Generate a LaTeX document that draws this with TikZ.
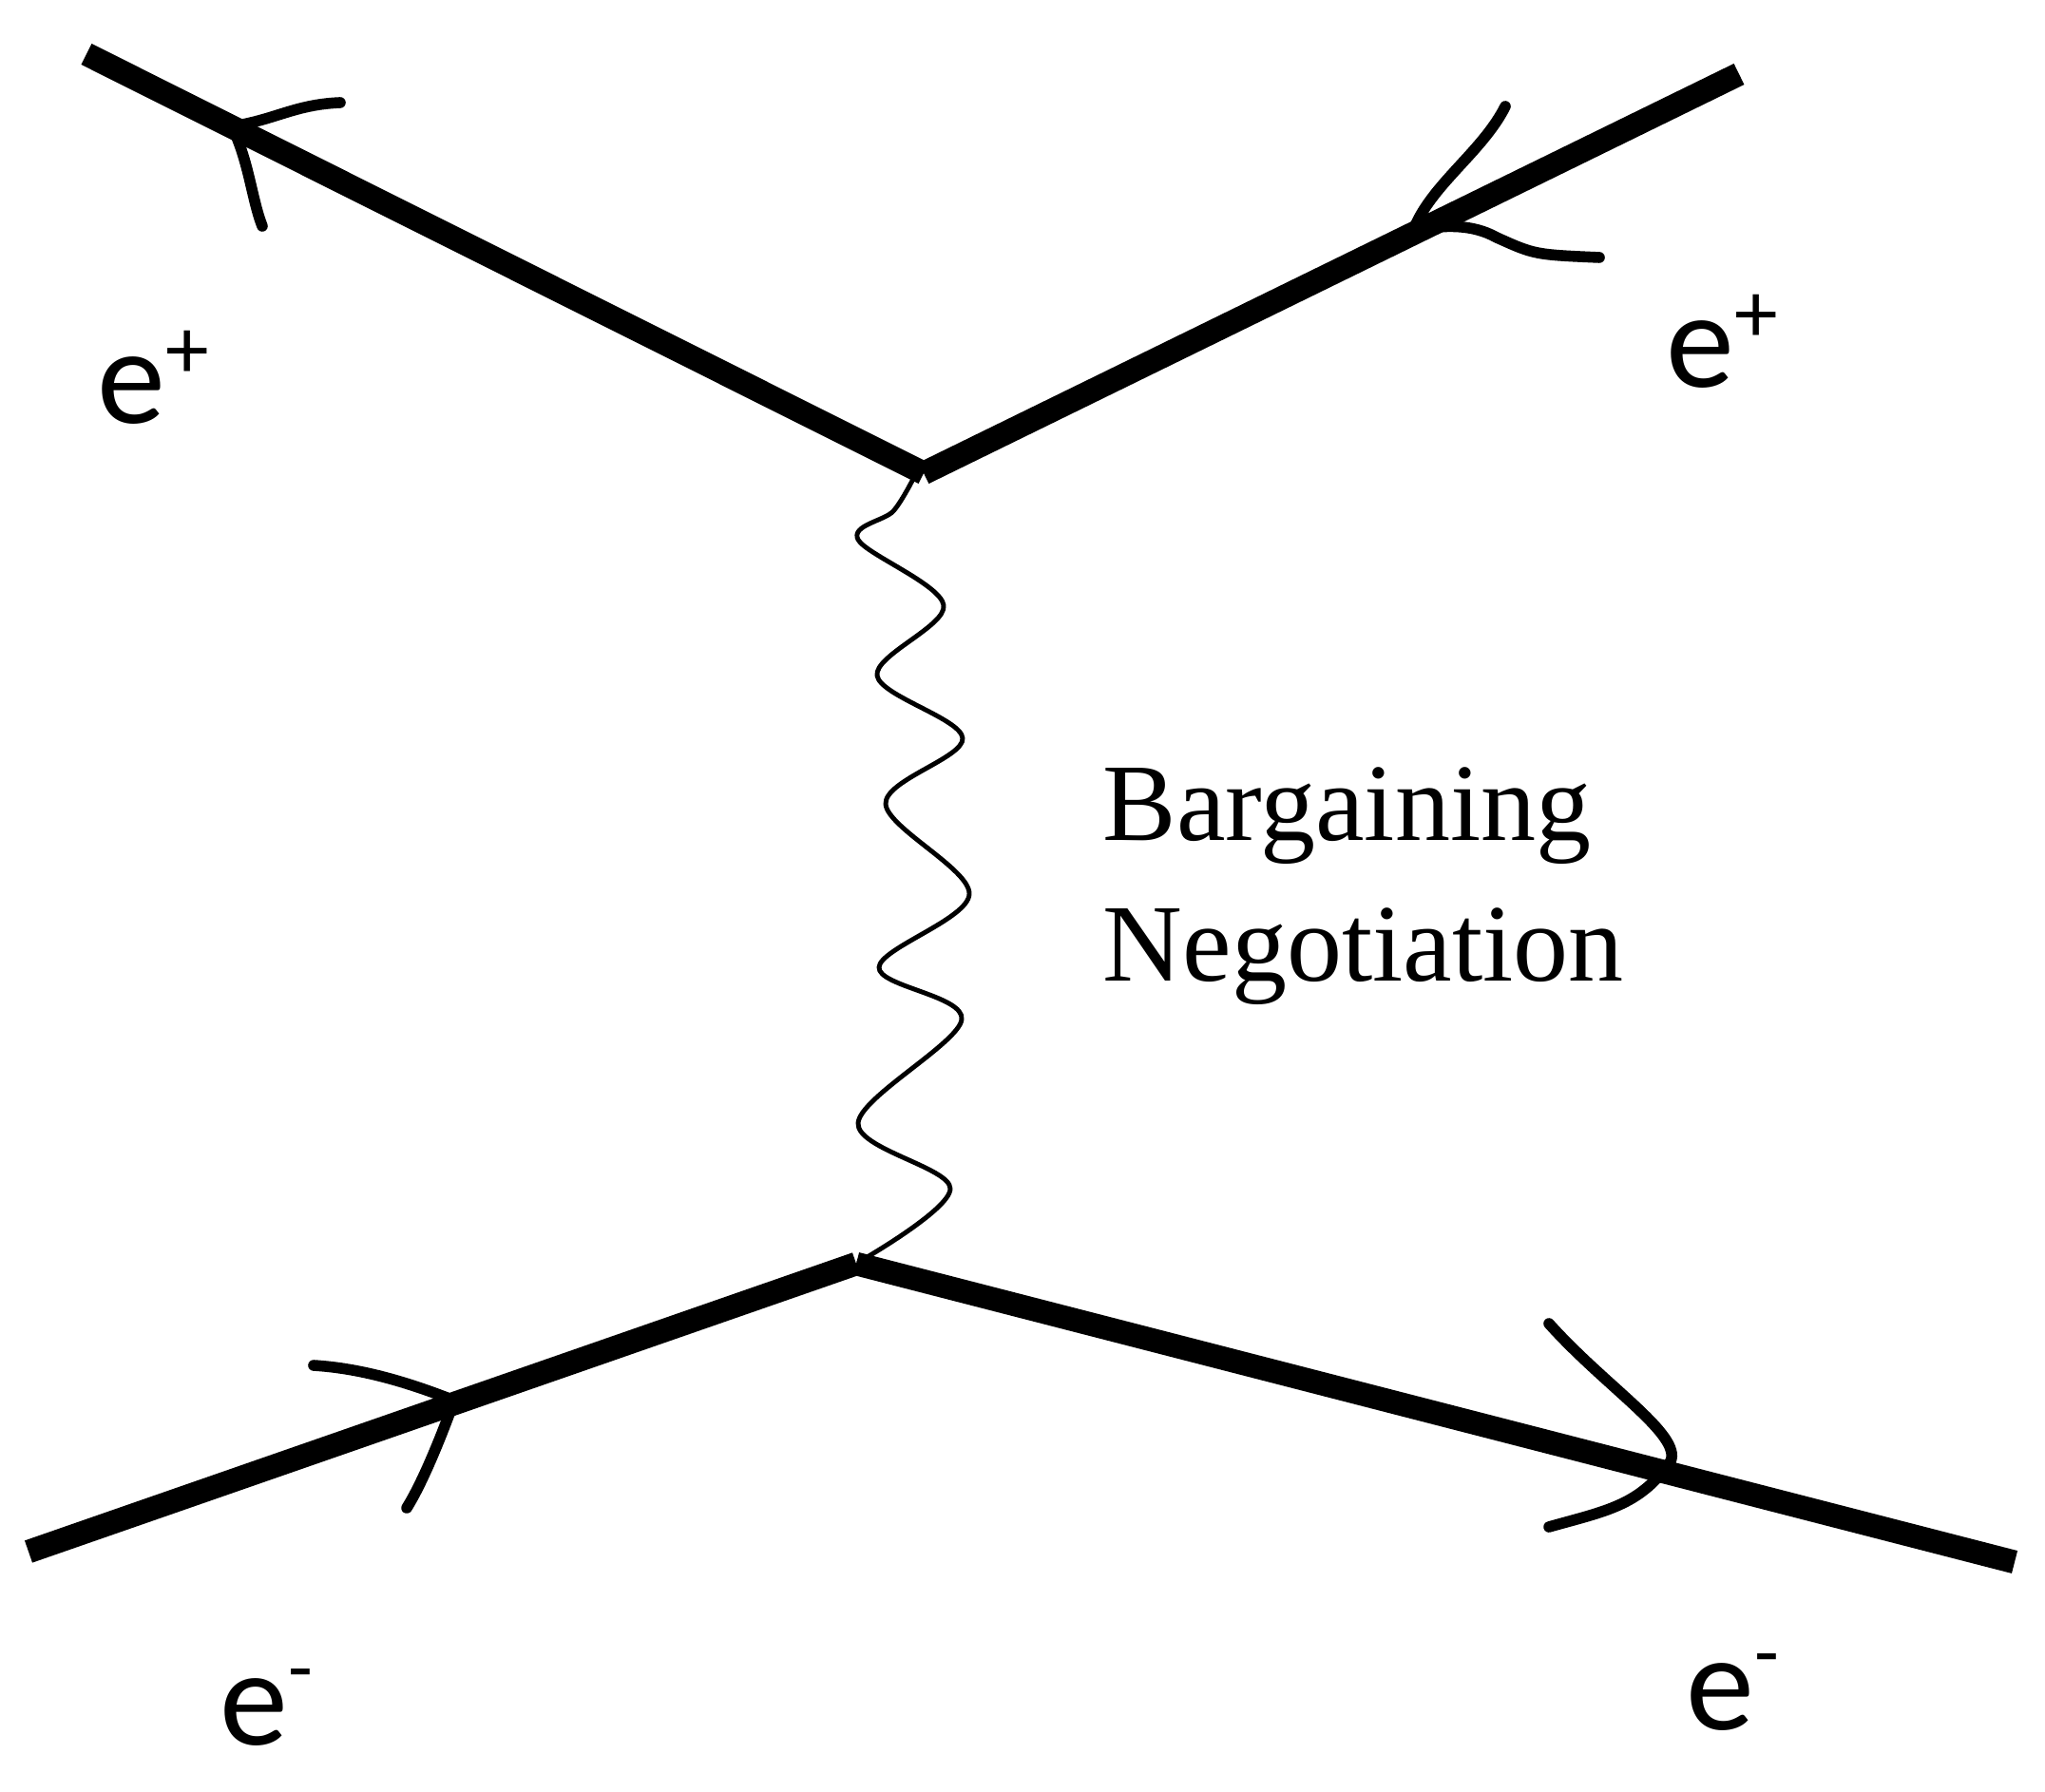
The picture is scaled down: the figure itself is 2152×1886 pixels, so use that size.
\documentclass[tikz,border=0pt]{standalone}
\usepackage{fontspec}
\newfontfamily\lblfont{Carlito}
\newfontfamily\txtfont{Liberation Serif}
\newcommand{\supplus}{\raisebox{13.4pt}{\fontsize{26}{26}\selectfont +}}
\newcommand{\supminus}{\raisebox{15pt}{\fontsize{24}{24}\selectfont -}}
\begin{document}
\begin{tikzpicture}[x=0.01cm,y=-0.01cm,
  fermion/.style={line width=7pt, line cap=butt},
  barb/.style={line width=3.3pt, line cap=round, line join=round},
  photon/.style={line width=1.4pt, line cap=round, line join=round},
  lbl/.style={font=\lblfont\fontsize{41}{49}\selectfont, inner sep=0pt, anchor=base west},
  txt/.style={font=\txtfont\fontsize{33}{41}\selectfont, inner sep=0pt, anchor=base west}]
\useasboundingbox (0,0) rectangle (2152,1886);
% vertices and external ends
\coordinate (tl) at (91,57);
\coordinate (tr) at (1830,78);
\coordinate (vt) at (972,498);
\coordinate (vb) at (901,1330);
\coordinate (bl) at (30,1633);
\coordinate (br) at (2120,1644);
% fermion lines
\draw[fermion] (vt) -- (tl);
\draw[fermion] (tr) -- (vt);
\draw[fermion] (bl) -- (vb);
\draw[fermion] (vb) -- (br);
% photon (wavy)
\draw[photon] plot[smooth, tension=0.55] coordinates {(962,502) (940,538) (903,568) (993,637) (923,711) (1013,777) (932,846) (1020,941) (925,1018) (1012,1073) (903,1182) (1000,1251) (904,1328)};
% hand-drawn arrow barbs
\coordinate (ta) at (244,133);
\coordinate (ta1) at (358,108);
\coordinate (ta2) at (276,238);
\draw[barb] (ta) .. controls (290,126) and (310,110) .. (ta1);
\draw[barb] (ta) .. controls (262,170) and (265,210) .. (ta2);
\coordinate (tb) at (1487,243);
\coordinate (tb1) at (1584,112);
\coordinate (tb2) at (1683,271);
\draw[barb] (tb) .. controls (1505,195) and (1560,160) .. (tb1);
\draw[barb] (tb) .. controls (1520,236) and (1550,236) .. (1575,250) .. controls (1615,268) .. (tb2);
\coordinate (tc) at (478,1474);
\coordinate (tc1) at (330,1437);
\coordinate (tc2) at (428,1587);
\draw[barb] (tc1) .. controls (380,1440) and (430,1455) .. (tc);
\draw[barb] (tc) .. controls (465,1510) and (445,1560) .. (tc2);
\coordinate (td) at (1758,1538);
\coordinate (td1) at (1630,1393);
\coordinate (td2) at (1630,1607);
\draw[barb] (td1) .. controls (1690,1460) and (1770,1510) .. (td);
\draw[barb] (td) .. controls (1725,1585) and (1690,1590) .. (td2);
% labels
\node[lbl] (l1) at (102,446) {e\supplus};
\node[lbl] (l2) at (1753,408) {e\supplus};
\node[lbl] (l3) at (231,1836) {e\supminus};
\node[lbl] (l4) at (1774,1820) {e\supminus};
\node[txt] (t1) at (1160,885) {Bargaining};
\node[txt] (t2) at (1160,1033) {Negotiation};
\end{tikzpicture}
\end{document}
